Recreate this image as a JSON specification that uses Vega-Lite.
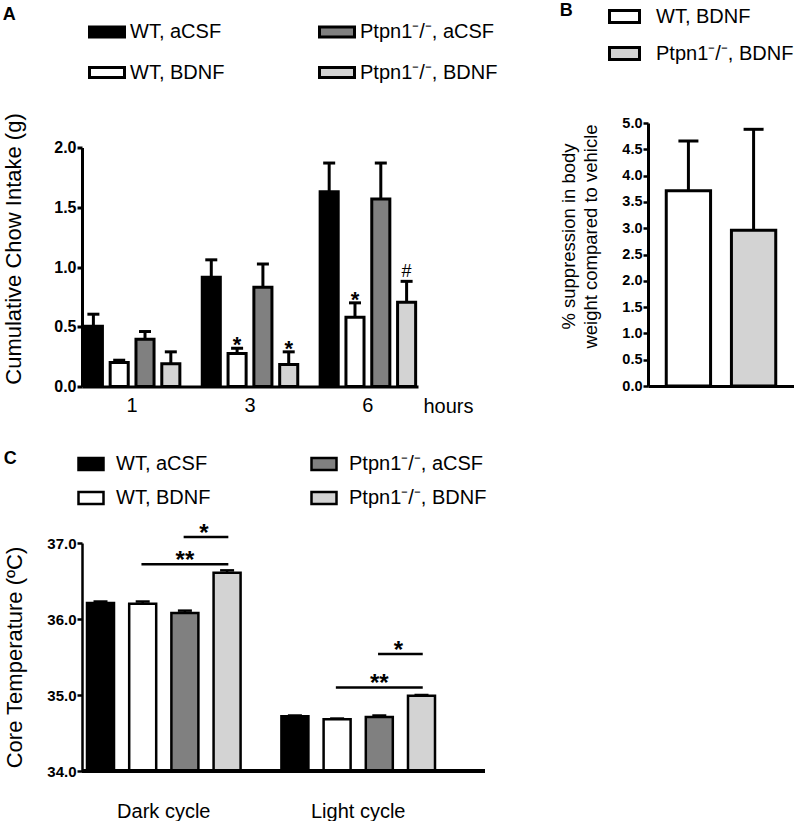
{
  "$schema": "https://vega.github.io/schema/vega-lite/v6.json",
  "background": "white",
  "padding": {"left": 2, "top": 0, "right": 0, "bottom": 0},
  "config": {
    "font": "Liberation Sans",
    "view": {"stroke": null},
    "axis": {"grid": false, "domainColor": "black", "tickColor": "black", "labelColor": "black", "titleColor": "black", "titleFontWeight": "normal", "labelFlush": false, "labelOverlap": false},
    "title": {"anchor": "start", "frame": "bounds", "fontSize": 18, "fontWeight": "bold", "color": "black"},
    "legend": {"orient": "none", "title": null, "labelFontSize": 20, "labelColor": "black", "symbolStrokeColor": "black", "symbolOpacity": 1, "labelLimit": 300}
  },
  "spacing": 9,
  "resolve": {"scale": {"fill": "independent", "xOffset": "independent"}, "legend": {"fill": "independent"}},
  "vconcat": [
    {
      "spacing": 61,
      "center": true,
      "resolve": {"scale": {"fill": "independent", "xOffset": "independent"}, "legend": {"fill": "independent"}},
      "hconcat": [
        {
          "title": {"text": "A", "offset": -11},
          "width": 336,
          "height": 239,
          "data": {"values": [
            {"hour": "1", "group": "WT, aCSF", "mean": 0.505, "top": 0.605, "sig": ""},
            {"hour": "1", "group": "WT, BDNF", "mean": 0.2, "top": 0.22, "sig": ""},
            {"hour": "1", "group": "Ptpn1⁻/⁻, aCSF", "mean": 0.395, "top": 0.46, "sig": ""},
            {"hour": "1", "group": "Ptpn1⁻/⁻, BDNF", "mean": 0.19, "top": 0.29, "sig": ""},
            {"hour": "3", "group": "WT, aCSF", "mean": 0.915, "top": 1.06, "sig": ""},
            {"hour": "3", "group": "WT, BDNF", "mean": 0.277, "top": 0.32, "sig": "*"},
            {"hour": "3", "group": "Ptpn1⁻/⁻, aCSF", "mean": 0.83, "top": 1.025, "sig": ""},
            {"hour": "3", "group": "Ptpn1⁻/⁻, BDNF", "mean": 0.185, "top": 0.29, "sig": "*"},
            {"hour": "6", "group": "WT, aCSF", "mean": 1.63, "top": 1.87, "sig": ""},
            {"hour": "6", "group": "WT, BDNF", "mean": 0.58, "top": 0.7, "sig": "*"},
            {"hour": "6", "group": "Ptpn1⁻/⁻, aCSF", "mean": 1.57, "top": 1.87, "sig": ""},
            {"hour": "6", "group": "Ptpn1⁻/⁻, BDNF", "mean": 0.705, "top": 0.88, "sig": "#"}
          ]},
          "encoding": {
            "x": {"field": "hour", "type": "nominal", "scale": {"paddingInner": 0.19, "paddingOuter": 0.02},
              "axis": {"title": "hours", "labelAngle": 0, "ticks": false, "domainWidth": 3, "labelFontSize": 20, "labelPadding": 9, "titleFontSize": 20, "titleX": 366, "titleY": 10, "titleBaseline": "top", "titleAlign": "center"}},
            "xOffset": {"field": "group", "type": "nominal", "scale": {"domain": ["WT, aCSF", "WT, BDNF", "Ptpn1⁻/⁻, aCSF", "Ptpn1⁻/⁻, BDNF"], "paddingInner": 0.3}}
          },
          "layer": [
            {
              "mark": {"type": "bar", "stroke": "black", "strokeWidth": 3},
              "encoding": {
                "y": {"field": "mean", "type": "quantitative", "scale": {"domain": [0, 2], "nice": false},
                  "axis": {"title": "Cumulative Chow Intake (g)", "values": [0, 0.5, 1, 1.5, 2], "format": ".1f", "labelFontSize": 16, "labelFontWeight": "bold", "labelPadding": 1, "tickSize": 5, "tickWidth": 3, "domainWidth": 3, "titleFontSize": 22, "titlePadding": 28, "titleY": 101}},
                "fill": {"field": "group", "type": "nominal",
                  "scale": {"domain": ["WT, aCSF", "WT, BDNF", "Ptpn1⁻/⁻, aCSF", "Ptpn1⁻/⁻, BDNF"], "range": ["#000000", "#ffffff", "#808080", "#d3d3d3"]},
                  "legend": {"legendX": 6, "legendY": -135, "columns": 2, "symbolType": "M-1,-0.29H1V0.29H-1Z", "symbolSize": 1225, "symbolStrokeWidth": 3, "columnPadding": 88, "rowPadding": 10, "labelOffset": 4}}
              }
            },
            {
              "mark": {"type": "rule", "color": "black", "strokeWidth": 3},
              "encoding": {"y": {"field": "mean", "type": "quantitative"}, "y2": {"field": "top"}}
            },
            {
              "mark": {"type": "tick", "color": "black", "thickness": 3, "size": 12, "opacity": 1},
              "encoding": {"y": {"field": "top", "type": "quantitative"}}
            },
            {
              "transform": [{"filter": "datum.sig == '*'"}],
              "mark": {"type": "text", "fontSize": 22, "fontWeight": "bold", "baseline": "alphabetic", "dy": 4, "color": "black"},
              "encoding": {"y": {"field": "top", "type": "quantitative"}, "text": {"field": "sig"}}
            },
            {
              "transform": [{"filter": "datum.sig == '#'"}],
              "mark": {"type": "text", "fontSize": 18, "baseline": "alphabetic", "dy": -4, "color": "black"},
              "encoding": {"y": {"field": "top", "type": "quantitative"}, "text": {"field": "sig"}}
            }
          ]
        },
        {
          "title": {"text": "B", "offset": -20},
          "width": 146,
          "height": 263,
          "data": {"values": [
            {"group": "WT, BDNF", "mean": 3.71, "top": 4.66},
            {"group": "Ptpn1⁻/⁻, BDNF", "mean": 2.96, "top": 4.88}
          ]},
          "encoding": {
            "x": {"field": "group", "type": "nominal", "sort": ["WT, BDNF", "Ptpn1⁻/⁻, BDNF"], "scale": {"paddingInner": 0.32, "paddingOuter": 0.28},
              "axis": {"title": "\u00a0", "titleFontSize": 20, "titlePadding": 35, "labels": false, "ticks": false, "domainWidth": 3}}
          },
          "layer": [
            {
              "mark": {"type": "bar", "stroke": "black", "strokeWidth": 3},
              "encoding": {
                "y": {"field": "mean", "type": "quantitative", "scale": {"domain": [0, 5], "nice": false},
                  "axis": {"title": ["% suppression in body", "weight compared to vehicle"], "tickCount": 10, "format": ".1f", "labelOverlap": false, "labelBound": false, "labelFontSize": 14.5, "labelFontWeight": "bold", "labelPadding": 1, "tickSize": 5, "tickWidth": 2.5, "domainWidth": 3, "titleFontSize": 18.5, "titleLineHeight": 22, "titlePadding": 21, "titleY": 113}},
                "fill": {"field": "group", "type": "nominal",
                  "scale": {"domain": ["WT, BDNF", "Ptpn1⁻/⁻, BDNF"], "range": ["#ffffff", "#d3d3d3"]},
                  "legend": {"legendX": -40, "legendY": -123, "direction": "vertical", "symbolType": "M-1,-0.4H1V0.4H-1Z", "symbolSize": 900, "symbolStrokeWidth": 3, "rowPadding": 8, "labelOffset": 15}}
              }
            },
            {
              "mark": {"type": "rule", "color": "black", "strokeWidth": 3},
              "encoding": {"y": {"field": "mean", "type": "quantitative", "axis": {"labelOverlap": false, "tickCount": 10}}, "y2": {"field": "top"}}
            },
            {
              "mark": {"type": "tick", "color": "black", "thickness": 3, "size": 20, "opacity": 1},
              "encoding": {"y": {"field": "top", "type": "quantitative", "axis": {"labelOverlap": false, "tickCount": 10}}}
            }
          ]
        }
      ]
    },
    {
      "title": {"text": "C", "offset": -18},
      "width": 403,
      "height": 228,
      "data": {"values": [
        {"cycle": "Dark cycle", "group": "WT, aCSF", "mean": 36.21, "top": 36.23},
        {"cycle": "Dark cycle", "group": "WT, BDNF", "mean": 36.2, "top": 36.23},
        {"cycle": "Dark cycle", "group": "Ptpn1⁻/⁻, aCSF", "mean": 36.08, "top": 36.11},
        {"cycle": "Dark cycle", "group": "Ptpn1⁻/⁻, BDNF", "mean": 36.61, "top": 36.64},
        {"cycle": "Light cycle", "group": "WT, aCSF", "mean": 34.72, "top": 34.73},
        {"cycle": "Light cycle", "group": "WT, BDNF", "mean": 34.68, "top": 34.69},
        {"cycle": "Light cycle", "group": "Ptpn1⁻/⁻, aCSF", "mean": 34.71, "top": 34.73},
        {"cycle": "Light cycle", "group": "Ptpn1⁻/⁻, BDNF", "mean": 34.99, "top": 35.0}
      ]},
      "layer": [
        {
          "mark": {"type": "bar", "stroke": "black", "strokeWidth": 2.5},
          "encoding": {
            "x": {"field": "cycle", "type": "nominal", "scale": {"range": [5, 353], "paddingInner": 0.21, "paddingOuter": 0},
              "axis": {"title": null, "labelAngle": 0, "ticks": false, "domain": false, "labelFontSize": 20, "labelPadding": 30}},
            "xOffset": {"field": "group", "type": "nominal", "scale": {"domain": ["WT, aCSF", "WT, BDNF", "Ptpn1⁻/⁻, aCSF", "Ptpn1⁻/⁻, BDNF"], "paddingInner": 0.36}},
            "y": {"field": "mean", "type": "quantitative", "scale": {"domain": [34, 37], "nice": false, "zero": false},
              "axis": {"title": "Core Temperature (ºC)", "values": [34, 34.5, 35, 35.5, 36, 36.5, 37], "format": ".1f", "labelFontSize": 15, "labelFontWeight": "bold", "labelPadding": 1, "tickSize": 5, "tickWidth": 2.5, "domainWidth": 2.5, "titleFontSize": 22, "titlePadding": 20}},
            "y2": {"datum": 34},
            "fill": {"field": "group", "type": "nominal",
              "scale": {"domain": ["WT, aCSF", "WT, BDNF", "Ptpn1⁻/⁻, aCSF", "Ptpn1⁻/⁻, BDNF"], "range": ["#000000", "#ffffff", "#808080", "#d3d3d3"]},
              "legend": {"legendX": -5, "legendY": -93, "columns": 2, "symbolType": "M-1,-0.48H1V0.48H-1Z", "symbolSize": 625, "symbolStrokeWidth": 2.5, "columnPadding": 95, "rowPadding": 9, "labelOffset": 11}}
          }
        },
        {
          "mark": {"type": "rule", "color": "black", "strokeWidth": 3},
          "encoding": {"y": {"datum": 34}}
        },
        {
          "mark": {"type": "rule", "color": "black", "strokeWidth": 2.5},
          "encoding": {
            "x": {"field": "cycle", "type": "nominal"},
            "xOffset": {"field": "group", "type": "nominal"},
            "y": {"field": "mean", "type": "quantitative"},
            "y2": {"field": "top"}
          }
        },
        {
          "mark": {"type": "tick", "color": "black", "thickness": 2.5, "size": 14, "opacity": 1},
          "encoding": {
            "x": {"field": "cycle", "type": "nominal"},
            "xOffset": {"field": "group", "type": "nominal"},
            "y": {"field": "top", "type": "quantitative"}
          }
        },
        {
          "data": {"values": [
            {"cycle": "Dark cycle", "group": "Ptpn1⁻/⁻, aCSF", "yv": 37.08, "id": "d1"},
            {"cycle": "Dark cycle", "group": "Ptpn1⁻/⁻, BDNF", "yv": 37.08, "id": "d1"},
            {"cycle": "Dark cycle", "group": "WT, BDNF", "yv": 36.72, "id": "d2"},
            {"cycle": "Dark cycle", "group": "Ptpn1⁻/⁻, BDNF", "yv": 36.72, "id": "d2"},
            {"cycle": "Light cycle", "group": "Ptpn1⁻/⁻, aCSF", "yv": 35.54, "id": "l1"},
            {"cycle": "Light cycle", "group": "Ptpn1⁻/⁻, BDNF", "yv": 35.54, "id": "l1"},
            {"cycle": "Light cycle", "group": "WT, BDNF", "yv": 35.1, "id": "l2"},
            {"cycle": "Light cycle", "group": "Ptpn1⁻/⁻, BDNF", "yv": 35.1, "id": "l2"}
          ]},
          "mark": {"type": "line", "color": "black", "strokeWidth": 2.5, "strokeCap": "square"},
          "encoding": {
            "x": {"field": "cycle", "type": "nominal"},
            "xOffset": {"field": "group", "type": "nominal"},
            "y": {"field": "yv", "type": "quantitative"},
            "detail": {"field": "id"}
          }
        },
        {
          "data": {"values": [
            {"cycle": "Dark cycle", "group": "Ptpn1⁻/⁻, aCSF", "yv": 37.08, "label": "*"},
            {"cycle": "Dark cycle", "group": "Ptpn1⁻/⁻, aCSF", "yv": 36.72, "label": "**"},
            {"cycle": "Light cycle", "group": "Ptpn1⁻/⁻, aCSF", "yv": 35.54, "label": "*"},
            {"cycle": "Light cycle", "group": "Ptpn1⁻/⁻, aCSF", "yv": 35.1, "label": "**"}
          ]},
          "layer": [
            {
              "transform": [{"filter": "datum.label == '**'"}],
              "mark": {"type": "text", "fontSize": 24, "fontWeight": "bold", "baseline": "alphabetic", "dy": 4, "color": "black"},
              "encoding": {
                "x": {"field": "cycle", "type": "nominal"},
                "xOffset": {"field": "group", "type": "nominal"},
                "y": {"field": "yv", "type": "quantitative"},
                "text": {"field": "label"}
              }
            },
            {
              "transform": [{"filter": "datum.label == '*'"}],
              "mark": {"type": "text", "fontSize": 24, "fontWeight": "bold", "baseline": "alphabetic", "dy": 4, "dx": 19, "color": "black"},
              "encoding": {
                "x": {"field": "cycle", "type": "nominal"},
                "xOffset": {"field": "group", "type": "nominal"},
                "y": {"field": "yv", "type": "quantitative"},
                "text": {"field": "label"}
              }
            }
          ]
        }
      ]
    }
  ]
}
